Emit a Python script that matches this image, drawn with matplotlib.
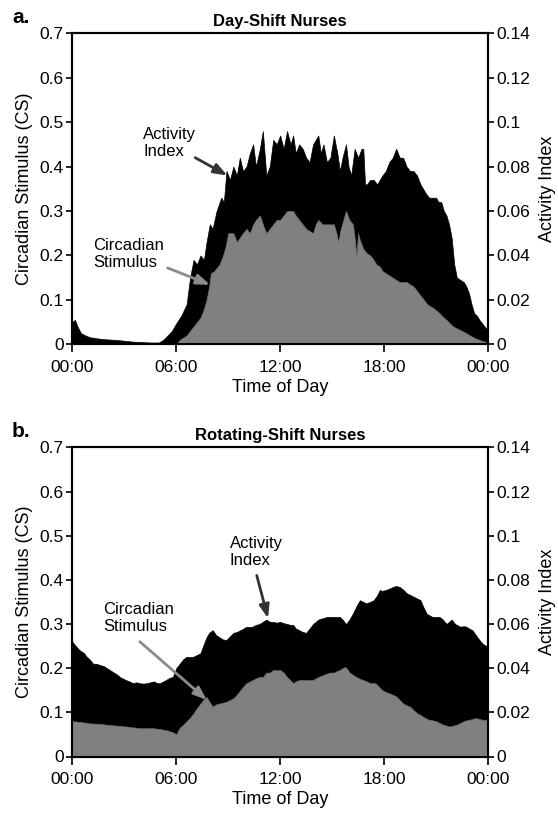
import matplotlib
matplotlib.use("Agg")
import matplotlib.pyplot as plt

plt.rcParams['font.family'] = ['Liberation Sans', 'DejaVu Sans']

# ---- panel a: day-shift nurses ----
day_ai_hours = [0.0, 0.15, 0.3, 0.5, 0.75, 1.0, 1.5, 2.0, 2.5, 3.0, 3.5, 4.0, 4.5, 5.0,
                5.25, 5.5, 5.75, 6.0, 6.3, 6.6, 6.8, 7.0, 7.2, 7.4, 7.6, 7.75, 7.94, 8.1,
                8.33, 8.6, 8.75, 8.9, 9.1, 9.3, 9.5, 9.67, 9.85, 10.06, 10.25, 10.44, 10.6,
                10.83, 11.0, 11.2, 11.4, 11.6, 11.8, 12.0, 12.2, 12.4, 12.6, 12.75, 12.9,
                13.1, 13.3, 13.5, 13.7, 13.9, 14.2, 14.35, 14.5, 14.7, 14.9, 15.1, 15.3,
                15.45, 15.6, 15.8, 15.95, 16.1, 16.3, 16.5, 16.7, 16.8, 16.9, 17.0, 17.2,
                17.4, 17.6, 17.75, 17.9, 18.1, 18.3, 18.5, 18.7, 18.9, 19.1, 19.3, 19.5,
                19.7, 19.9, 20.1, 20.25, 20.4, 20.6, 20.8, 21.0, 21.15, 21.3, 21.45, 21.6,
                21.75, 21.9, 22.05, 22.2, 22.4, 22.6, 22.75, 22.9, 23.05, 23.2, 23.35, 23.5,
                23.65, 23.8, 24.0]
day_ai = [0.010, 0.011, 0.008, 0.005, 0.004, 0.0032, 0.0026, 0.0022, 0.002, 0.0016, 0.0012,
          0.001, 0.0008, 0.0008, 0.002, 0.004, 0.006, 0.0094, 0.013, 0.018, 0.030, 0.038,
          0.036, 0.040, 0.038, 0.046, 0.054, 0.052, 0.060, 0.066, 0.064, 0.078, 0.074, 0.080,
          0.076, 0.084, 0.078, 0.080, 0.086, 0.090, 0.080, 0.088, 0.096, 0.076, 0.080, 0.092,
          0.090, 0.094, 0.088, 0.096, 0.090, 0.094, 0.086, 0.090, 0.088, 0.084, 0.082, 0.090,
          0.094, 0.086, 0.090, 0.082, 0.084, 0.094, 0.086, 0.078, 0.084, 0.090, 0.080, 0.076,
          0.088, 0.084, 0.088, 0.088, 0.072, 0.072, 0.074, 0.074, 0.072, 0.074, 0.076, 0.078,
          0.082, 0.084, 0.088, 0.084, 0.084, 0.080, 0.078, 0.078, 0.076, 0.072, 0.070, 0.068,
          0.066, 0.066, 0.066, 0.064, 0.064, 0.060, 0.058, 0.054, 0.048, 0.036, 0.030, 0.029,
          0.028, 0.026, 0.023, 0.018, 0.014, 0.013, 0.011, 0.0096, 0.008, 0.006]

day_cs_hours = [0.0, 5.95, 6.0, 6.2, 6.6, 7.0, 7.3, 7.4, 7.6, 7.75, 7.9, 8.0, 8.2, 8.5, 8.7,
                8.85, 9.0, 9.3, 9.5, 9.67, 9.85, 10.06, 10.25, 10.44, 10.6, 10.83, 11.0, 11.2,
                11.4, 11.6, 11.8, 12.0, 12.2, 12.4, 12.6, 12.75, 12.9, 13.1, 13.3, 13.5, 13.7,
                13.9, 14.05, 14.2, 14.45, 14.7, 14.9, 15.1, 15.25, 15.35, 15.5, 15.65, 15.8,
                16.0, 16.2, 16.3, 16.4, 16.5, 16.6, 16.8, 17.0, 17.2, 17.4, 17.55, 17.75, 17.9,
                18.1, 18.3, 18.5, 18.7, 18.9, 19.1, 19.3, 19.5, 19.7, 19.9, 20.1, 20.3, 20.5,
                20.7, 20.9, 21.05, 21.2, 21.4, 21.6, 21.8, 22.0, 22.2, 22.4, 22.6, 22.75, 22.9,
                23.1, 23.3, 23.5, 23.7, 23.9, 24.0]
day_cs = [0.0, 0.0, 0.0, 0.01, 0.02, 0.04, 0.055, 0.06, 0.08, 0.10, 0.13, 0.16, 0.165, 0.18,
          0.20, 0.22, 0.25, 0.25, 0.23, 0.24, 0.25, 0.26, 0.25, 0.27, 0.28, 0.29, 0.27, 0.25,
          0.26, 0.27, 0.28, 0.28, 0.29, 0.30, 0.30, 0.30, 0.29, 0.28, 0.27, 0.26, 0.255, 0.25,
          0.27, 0.28, 0.27, 0.27, 0.27, 0.27, 0.25, 0.23, 0.26, 0.28, 0.30, 0.28, 0.27, 0.24,
          0.20, 0.25, 0.235, 0.215, 0.205, 0.20, 0.19, 0.18, 0.175, 0.165, 0.16, 0.155, 0.15,
          0.145, 0.14, 0.14, 0.14, 0.135, 0.13, 0.12, 0.11, 0.10, 0.09, 0.085, 0.08, 0.075,
          0.07, 0.062, 0.055, 0.047, 0.04, 0.036, 0.032, 0.028, 0.025, 0.021, 0.017, 0.013,
          0.01, 0.007, 0.005, 0.004]

# ---- panel b: rotating-shift nurses ----
rot_ai_hours = [0.0, 0.2, 0.44, 0.65, 0.83, 1.0, 1.2, 1.4, 1.6, 1.8, 2.0, 2.2, 2.4, 2.6, 2.75,
                2.95, 3.1, 3.3, 3.5, 3.7, 3.9, 4.1, 4.3, 4.5, 4.7, 4.9, 5.05, 5.25, 5.4, 5.6,
                5.8, 6.0, 6.2, 6.4, 6.6, 6.8, 7.0, 7.2, 7.4, 7.55, 7.75, 7.9, 8.1, 8.3, 8.5,
                8.7, 8.9, 9.1, 9.3, 9.5, 9.7, 9.9, 10.05, 10.25, 10.4, 10.6, 10.8, 11.0, 11.2,
                11.4, 11.6, 11.8, 12.0, 12.2, 12.4, 12.6, 12.75, 12.9, 13.1, 13.3, 13.5, 13.7,
                13.9, 14.05, 14.2, 14.45, 14.7, 14.9, 15.1, 15.3, 15.45, 15.6, 15.8, 16.0,
                16.2, 16.4, 16.6, 16.8, 16.95, 17.2, 17.4, 17.6, 17.75, 17.9, 18.1, 18.3, 18.5,
                18.7, 18.9, 19.1, 19.3, 19.5, 19.7, 19.9, 20.1, 20.25, 20.45, 20.6, 20.8, 21.0,
                21.2, 21.4, 21.6, 21.75, 21.9, 22.1, 22.4, 22.6, 22.75, 22.9, 23.1, 23.3, 23.5,
                23.7, 23.9, 24.0]
rot_ai = [0.052, 0.050, 0.048, 0.047, 0.0452, 0.044, 0.042, 0.042, 0.0414, 0.041, 0.040,
          0.039, 0.038, 0.037, 0.036, 0.0352, 0.0346, 0.034, 0.0332, 0.0336, 0.0332, 0.033,
          0.0332, 0.0336, 0.034, 0.0332, 0.0332, 0.034, 0.0346, 0.0356, 0.036, 0.040, 0.042,
          0.044, 0.0452, 0.045, 0.0452, 0.046, 0.0468, 0.050, 0.054, 0.056, 0.0572, 0.055,
          0.054, 0.053, 0.0528, 0.0544, 0.056, 0.0564, 0.0572, 0.058, 0.0588, 0.0586, 0.0588,
          0.0596, 0.060, 0.061, 0.062, 0.061, 0.061, 0.0606, 0.061, 0.0604, 0.060, 0.0596,
          0.0596, 0.058, 0.0572, 0.0564, 0.056, 0.058, 0.060, 0.061, 0.062, 0.0626, 0.0632,
          0.0632, 0.0632, 0.0632, 0.0632, 0.062, 0.060, 0.062, 0.0648, 0.068, 0.0708, 0.070,
          0.0694, 0.070, 0.0708, 0.073, 0.0754, 0.075, 0.0754, 0.076, 0.0768, 0.0772, 0.0768,
          0.0756, 0.074, 0.0732, 0.0724, 0.0716, 0.0708, 0.068, 0.0648, 0.064, 0.0632, 0.0632,
          0.0632, 0.062, 0.060, 0.061, 0.062, 0.060, 0.0588, 0.059, 0.0588, 0.058, 0.0572,
          0.055, 0.0528, 0.051, 0.050, 0.052]

rot_cs_hours = [0.0, 0.5, 1.0, 1.5, 2.0, 2.5, 3.1, 3.5, 3.9, 4.3, 4.7, 5.05, 5.4, 5.8, 6.0,
                6.2, 6.4, 6.6, 6.8, 7.0, 7.2, 7.4, 7.6, 7.75, 7.9, 8.1, 8.3, 8.5, 8.7, 8.9,
                9.1, 9.3, 9.5, 9.7, 9.9, 10.05, 10.25, 10.4, 10.6, 10.8, 11.0, 11.2, 11.4,
                11.6, 11.8, 12.0, 12.2, 12.4, 12.6, 12.75, 12.9, 13.1, 13.3, 13.5, 13.7, 13.9,
                14.05, 14.2, 14.45, 14.7, 14.9, 15.1, 15.3, 15.45, 15.6, 15.75, 15.9, 16.0,
                16.2, 16.4, 16.6, 16.8, 17.0, 17.2, 17.5, 17.7, 17.9, 18.1, 18.3, 18.5, 18.7,
                18.9, 19.1, 19.3, 19.5, 19.7, 19.9, 20.1, 20.25, 20.45, 20.6, 20.8, 21.0, 21.2,
                21.4, 21.6, 21.8, 22.0, 22.2, 22.4, 22.6, 22.75, 22.9, 23.1, 23.3, 23.5, 23.7,
                23.9, 24.0]
rot_cs = [0.08, 0.078, 0.075, 0.074, 0.072, 0.07, 0.068, 0.066, 0.064, 0.064, 0.064, 0.062,
          0.06, 0.055, 0.05, 0.065, 0.072, 0.08, 0.088, 0.098, 0.11, 0.12, 0.13, 0.135, 0.125,
          0.113, 0.118, 0.12, 0.122, 0.124, 0.128, 0.132, 0.14, 0.15, 0.16, 0.166, 0.17,
          0.173, 0.177, 0.18, 0.18, 0.19, 0.19, 0.196, 0.195, 0.196, 0.19, 0.18, 0.172, 0.166,
          0.17, 0.173, 0.173, 0.173, 0.173, 0.173, 0.177, 0.18, 0.184, 0.188, 0.19, 0.19,
          0.194, 0.196, 0.2, 0.203, 0.197, 0.19, 0.185, 0.18, 0.176, 0.173, 0.17, 0.166,
          0.166, 0.158, 0.15, 0.146, 0.143, 0.14, 0.136, 0.128, 0.12, 0.116, 0.113, 0.105,
          0.098, 0.094, 0.09, 0.086, 0.083, 0.082, 0.08, 0.076, 0.072, 0.07, 0.068, 0.07,
          0.072, 0.076, 0.08, 0.082, 0.083, 0.085, 0.087, 0.085, 0.083, 0.083, 0.083]

hour_ticks = [0, 6, 12, 18, 24]
hour_labels = ['00:00', '06:00', '12:00', '18:00', '00:00']
cs_ticks = [0, 0.1, 0.2, 0.3, 0.4, 0.5, 0.6, 0.7]
cs_labels = ['0', '0.1', '0.2', '0.3', '0.4', '0.5', '0.6', '0.7']
ai_ticks = [0, 0.02, 0.04, 0.06, 0.08, 0.1, 0.12, 0.14]
ai_labels = ['0', '0.02', '0.04', '0.06', '0.08', '0.1', '0.12', '0.14']

W, H = 558, 814
fig = plt.figure(figsize=(W / 100, H / 100), dpi=100)


def panel(top_px, bottom_px, letter, title, ai_h, ai_v, cs_h, cs_v, ann):
    left, right = 72.3, 488.0
    ax = fig.add_axes([left / W, 1 - bottom_px / H, (right - left) / W, (bottom_px - top_px) / H])
    ax2 = ax.twinx()
    # CS axis drawn above the activity axis so gray sits on black
    ax.set_zorder(ax2.get_zorder() + 1)
    ax.patch.set_visible(False)

    ax2.fill_between(ai_h, 0, ai_v, color='black', lw=0.5, edgecolor='black')
    ax.fill_between(cs_h, 0, cs_v, color='#808080', lw=0.5, edgecolor='#707070')

    ax.set_xlim(0, 24)
    ax.set_ylim(0, 0.7)
    ax2.set_ylim(0, 0.14)
    ax.set_xticks(hour_ticks)
    ax.set_xticklabels(hour_labels)
    ax.set_yticks(cs_ticks)
    ax.set_yticklabels(cs_labels)
    ax2.set_yticks(ai_ticks)
    ax2.set_yticklabels(ai_labels)

    for a in (ax, ax2):
        for s in a.spines.values():
            s.set_linewidth(1.5)
        a.tick_params(axis='y', direction='out', length=4, width=1.2, labelsize=12.5, pad=2)
    ax.tick_params(axis='x', direction='out', length=6, width=1.2, labelsize=12.5, pad=5)
    ax.set_xlabel('Time of Day', fontsize=13, labelpad=3)
    ax.set_ylabel('Circadian Stimulus (CS)', fontsize=13, labelpad=5)
    ax2.set_ylabel('Activity Index', fontsize=13, labelpad=6)
    ax.set_title(title, fontsize=12, fontweight='bold', pad=5)
    fig.text(12 / W, 1 - (top_px - 25) / H, letter, fontsize=15, fontweight='bold', va='top')

    for txt, pos, tail, head, col in ann:
        ax.text(pos[0], pos[1], txt, fontsize=12, va='top', ha='left')
        ax.annotate('', xy=head, xytext=tail,
                    arrowprops=dict(arrowstyle='-|>,head_length=0.8,head_width=0.3',
                                    color=col, lw=2, shrinkA=0, shrinkB=0))
    return ax


panel(33.3, 344.3, 'a.', 'Day-Shift Nurses', day_ai_hours, day_ai, day_cs_hours, day_cs,
      [('Activity\nIndex', (4.1, 0.49), (7.1, 0.42), (8.95, 0.38), '#333333'),
       ('Circadian\nStimulus', (1.2, 0.24), (5.5, 0.172), (7.95, 0.134), '#8c8c8c')])
panel(447.4, 756.5, 'b.', 'Rotating-Shift Nurses', rot_ai_hours, rot_ai, rot_cs_hours, rot_cs,
      [('Activity\nIndex', (9.1, 0.50), (10.65, 0.41), (11.3, 0.313), '#333333'),
       ('Circadian\nStimulus', (1.8, 0.35), (3.9, 0.26), (7.77, 0.128), '#8c8c8c')])

fig.savefig('out.png', dpi=100)
